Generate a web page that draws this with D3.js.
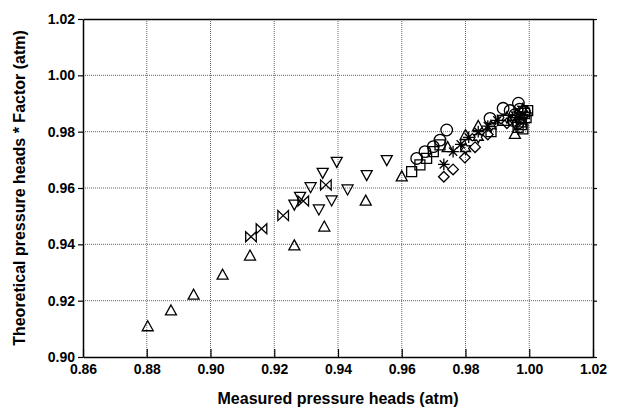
<!DOCTYPE html>
<html><head><meta charset="utf-8">
<script src="https://cdn.jsdelivr.net/npm/d3@7"></script>
<style>body{margin:0;background:#fff}svg{display:block}</style>
</head><body><div id="c"></div>
<script>
const xTicks=[0.86,0.88,0.90,0.92,0.94,0.96,0.98,1.00,1.02];
const yTicks=[0.90,0.92,0.94,0.96,0.98,1.00,1.02];
const xTitle="Measured pressure heads (atm)";
const yTitle="Theoretical pressure heads * Factor (atm)";
// series [measured, theoretical*factor]
const triUp=[[0.8803,0.9111],[0.8876,0.9167],[0.8947,0.9223],[0.9038,0.9294],[0.9124,0.9362],[0.9263,0.9398],[0.9357,0.9465],[0.9487,0.9557],[0.9600,0.9643],[0.9744,0.9747],[0.9800,0.9790],[0.9840,0.9822],[0.9955,0.9794],[0.9975,0.9835]];
const triDown=[[0.9263,0.9539],[0.9281,0.9567],[0.9314,0.9601],[0.9340,0.9522],[0.9352,0.9652],[0.9380,0.9554],[0.9396,0.9691],[0.9430,0.9593],[0.9490,0.9644],[0.9553,0.9697]];
const bowtie=[[0.9127,0.9427],[0.9160,0.9455],[0.9228,0.9502],[0.9291,0.9554],[0.9362,0.9611]];
const square=[[0.9631,0.9658],[0.9657,0.9682],[0.9678,0.9705],[0.9699,0.9729],[0.9720,0.9753],[0.9880,0.9800],[0.9920,0.9840],[0.9985,0.9865],[0.9990,0.9850],[0.9975,0.9825],[0.9980,0.9810],[0.9965,0.9815],[0.9995,0.9875]];
const circle=[[0.9647,0.9705],[0.9673,0.9729],[0.9699,0.9747],[0.9720,0.9770],[0.9741,0.9806],[0.9877,0.9847],[0.9918,0.9883],[0.9966,0.9901],[0.9970,0.9880],[0.9955,0.9860],[0.9975,0.9850],[0.9950,0.9840],[0.9965,0.9830],[0.9985,0.9870],[0.9940,0.9875]];
const diamond=[[0.9732,0.9640],[0.9761,0.9666],[0.9798,0.9708],[0.9830,0.9745],[0.9870,0.9790],[0.9930,0.9830],[0.9970,0.9840]];
const asterisk=[[0.9732,0.9684],[0.9761,0.9729],[0.9785,0.9755],[0.9810,0.9780],[0.9840,0.9800],[0.9870,0.9820],[0.9900,0.9840],[0.9960,0.9850],[0.9980,0.9860]];
const star=[[0.9800,0.9740],[0.9840,0.9780],[0.9880,0.9820],[0.9930,0.9850],[0.9960,0.9860],[0.9980,0.9880]];

const W=619,H=414,L=83,R=593,T=19,B=357;
const svg=d3.select("#c").append("svg").attr("width",W).attr("height",H);
const x=d3.scaleLinear().domain([0.86,1.02]).range([L,R]);
const y=d3.scaleLinear().domain([0.90,1.02]).range([B,T]);
const font="'Liberation Sans',Arial,sans-serif";

// grid
const g=svg.append("g");
g.selectAll(".gx").data(xTicks.slice(1,-1)).join("line").attr("x1",d=>x(d)).attr("x2",d=>x(d)).attr("y1",T).attr("y2",B)
 .attr("stroke","#666").attr("stroke-width",1).attr("stroke-dasharray","1,1");
g.selectAll(".gy").data(yTicks.slice(1,-1)).join("line").attr("y1",d=>y(d)).attr("y2",d=>y(d)).attr("x1",L).attr("x2",R)
 .attr("stroke","#666").attr("stroke-width",1).attr("stroke-dasharray","1,1");

// axes
const ax=svg.append("g").attr("transform",`translate(0,${B})`).call(d3.axisBottom(x).tickValues(xTicks).tickFormat(d3.format(".2f")).tickSizeInner(-8).tickSizeOuter(0).tickPadding(7));
const ay=svg.append("g").attr("transform",`translate(${L},0)`).call(d3.axisLeft(y).tickValues(yTicks).tickFormat(d3.format(".2f")).tickSizeInner(5).tickSizeOuter(0).tickPadding(3));
const ar=svg.append("g").attr("transform",`translate(${R},0)`).call(d3.axisRight(y).tickValues(yTicks).tickFormat("").tickSizeInner(4).tickSizeOuter(0));
const at=svg.append("g").attr("transform",`translate(0,${T})`).call(d3.axisTop(x).tickValues(xTicks).tickFormat("").tickSizeInner(0).tickSizeOuter(0));
[ax,ay,ar,at].forEach(a=>{a.selectAll("path").attr("stroke","#000").attr("stroke-width",1.5);a.selectAll("line").attr("stroke","#000").attr("stroke-width",1.2);
 a.selectAll("text").attr("font-family",font).attr("font-weight","bold").attr("font-size","14px").attr("fill","#000");});

// markers
const shapes={
 triUp:"M0,-5L5.5,5L-5.5,5Z",
 triDown:"M-5.5,-5L5.5,-5L0,5Z",
 bowtie:"M-5.3,-5L-5.3,5L5.3,-5L5.3,5Z",
 square:"M-5,-5H5V5H-5Z",
 circle:d3.symbol(d3.symbolCircle,Math.PI*5.8*5.8)(),
 diamond:"M0,-5.3L5.3,0L0,5.3L-5.3,0Z",
 asterisk:"M0,-5.8V5.8M-5.8,0H5.8M-4.1,-4.1L4.1,4.1M-4.1,4.1L4.1,-4.1",
 star:(()=>{let p=[];for(let i=0;i<12;i++){const r=i%2?3.1:5.8,a=Math.PI/6*i-Math.PI/2;p.push([r*Math.cos(a),r*Math.sin(a)]);}return "M"+p.map(q=>q[0].toFixed(2)+","+q[1].toFixed(2)).join("L")+"Z";})()
};
const series=[["triUp",triUp],["triDown",triDown],["bowtie",bowtie],["square",square],["circle",circle],["diamond",diamond],["asterisk",asterisk],["star",star]];
const pg=svg.append("g");
series.forEach(([k,data])=>{
 pg.append("g").selectAll("path").data(data).join("path").attr("d",shapes[k])
  .attr("transform",d=>`translate(${x(d[0])},${y(d[1])})`)
  .attr("fill","none").attr("stroke","#000").attr("stroke-width",1.3);
});

svg.append("text").attr("x",(L+R)/2).attr("y",404).attr("text-anchor","middle").attr("font-family",font).attr("font-weight","bold").attr("font-size","16px").text(xTitle);
svg.append("text").attr("transform",`translate(25,${(T+B)/2}) rotate(-90)`).attr("text-anchor","middle").attr("font-family",font).attr("font-weight","bold").attr("font-size","16px").text(yTitle);
</script></body></html>
